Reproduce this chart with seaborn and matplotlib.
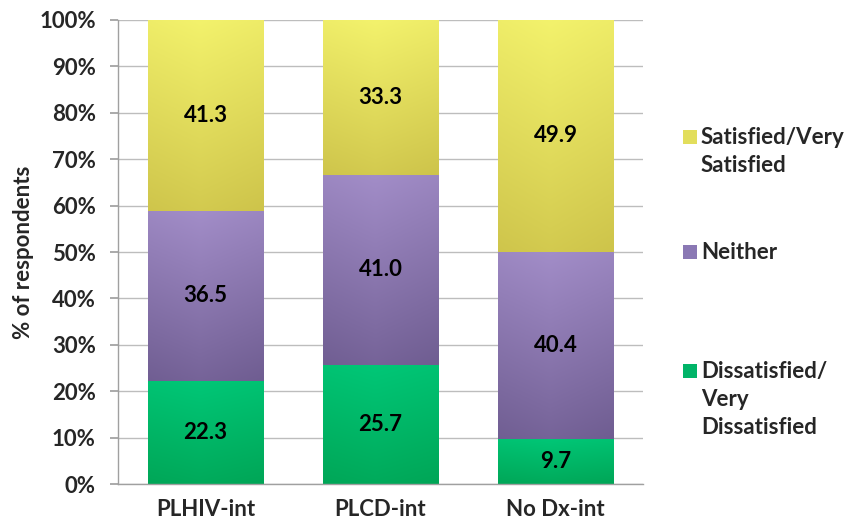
import numpy as np
import pandas as pd
import matplotlib
matplotlib.use("Agg")
import matplotlib.pyplot as plt
import seaborn as sns
from matplotlib.colors import LinearSegmentedColormap
from matplotlib.patches import Rectangle

categories = ["PLHIV-int", "PLCD-int", "No Dx-int"]
dissatisfied = [22.3, 25.7, 9.7]
neither = [36.5, 41.0, 40.4]
satisfied = [41.3, 33.3, 49.9]
series_names = ["Dissatisfied/\nVery\nDissatisfied", "Neither", "Satisfied/Very\nSatisfied"]
y_ticks = [0, 10, 20, 30, 40, 50, 60, 70, 80, 90, 100]

sns.set_theme(style="white")
plt.rcParams["font.family"] = ["Lato", "DejaVu Sans"]

FS = 16

fig = plt.figure(figsize=(8.51, 5.26), dpi=100)
ax = fig.add_axes([0.1387, 0.0798, 0.6169, 0.8822])

# (bottom colour, top colour, legend colour)
styles = [
    ("#00A556", "#00C777", "#00B468"),
    ("#6E5C90", "#A28DC8", "#8A78B4"),
    ("#CDC34A", "#F3F26C", "#E2DE5C"),
]

values = [dissatisfied, neither, satisfied]
bottom = np.zeros(len(categories))
groups = []
for vals, (cb, ct, cl) in zip(values, styles):
    n0 = len(ax.patches)
    sns.barplot(x=categories, y=vals, bottom=bottom.copy(), color=cl, width=0.66,
                saturation=1, ax=ax, linewidth=0, zorder=2)
    groups.append((ax.patches[n0:], vals, cb, ct))
    bottom = bottom + np.array(vals)

# gradient shading clipped to each bar segment
for patches, vals, cb, ct in groups:
    cmap = LinearSegmentedColormap.from_list("g", [cb, ct])
    for p, v in zip(patches, vals):
        x0, y0 = p.get_x(), p.get_y()
        w, h = p.get_width(), p.get_height()
        gy = np.linspace(0, 1, 200).reshape(-1, 1)
        gx = np.linspace(0, 1, 100).reshape(1, -1)
        grad = gy * 0.85 + 0.15 * (1 - np.abs(gx - 0.45) * 1.6).clip(0, 1)
        im = ax.imshow(grad, extent=[x0, x0 + w, y0, y0 + h], origin="lower",
                       cmap=cmap, vmin=0, vmax=1, aspect="auto", zorder=2.5,
                       interpolation="bilinear")
        im.set_clip_path(p)
        ax.text(x0 + w / 2, y0 + h / 2, f"{v:.1f}", ha="center", va="center",
                fontsize=FS, fontweight="bold", color="black", zorder=4)

ax.set_xlim(-0.5, 2.5)
ax.set_ylim(0, 100)
ax.set_yticks(y_ticks)
ax.set_yticklabels([f"{t}%" for t in y_ticks], fontsize=FS, fontweight="bold")
ax.set_xticks(range(len(categories)))
ax.set_xticklabels(categories, fontsize=FS, fontweight="bold")
ax.set_xticks([-0.5, 0.5, 1.5, 2.5], minor=True)
ax.tick_params(axis="x", which="major", length=0, pad=11)
ax.tick_params(axis="x", which="minor", length=5, color="#A0A0A0", direction="out")
ax.tick_params(axis="y", length=6, color="#A0A0A0", direction="out", pad=10, left=True)
ax.set_ylabel("% of respondents", fontsize=FS, fontweight="bold", labelpad=4)
ax.set_xlabel("")

ax.yaxis.grid(True, color="#BDBDBD", linewidth=1)
ax.set_axisbelow(True)
for s in ["top", "right"]:
    ax.spines[s].set_visible(False)
for s in ["left", "bottom"]:
    ax.spines[s].set_color("#A0A0A0")
    ax.spines[s].set_linewidth(1)

# legend (manual, entries top to bottom)
leg_entries = [
    (series_names[2], styles[2][2], 137),
    (series_names[1], styles[1][2], 252),
    (series_names[0], styles[0][2], 371),
]
for label, col, ypx in leg_entries:
    yf = 1 - ypx / 526
    fig.patches.append(Rectangle((683 / 851, yf - 7 / 526), 14 / 851, 14 / 526,
                                 transform=fig.transFigure, facecolor=col,
                                 edgecolor="none"))
    fig.text(701 / 851, yf + 10 / 526, label, ha="left", va="top", fontsize=FS,
             fontweight="bold", linespacing=1.42)

fig.savefig("out.png", dpi=100)
